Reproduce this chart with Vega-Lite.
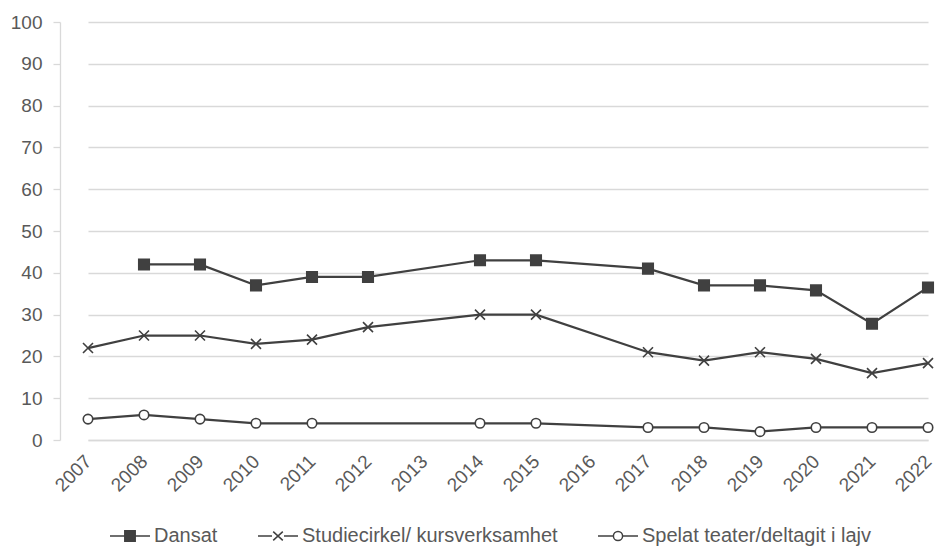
{
  "$schema": "https://vega.github.io/schema/vega-lite/v6.json",
  "width": 886,
  "height": 418,
  "autosize": "none",
  "padding": {"left": 60, "top": 22, "right": 0, "bottom": 109},
  "background": "white",
  "config": {
    "view": {"stroke": null},
    "font": "Liberation Sans",
    "axis": {"labelFont": "Liberation Sans", "labelColor": "#595959", "labelFontSize": 19},
    "legend": {"labelFont": "Liberation Sans", "labelColor": "#595959", "labelFontSize": 20, "labelLimit": 500}
  },
  "data": {
    "values": [
      {"year": "2008", "series": "Dansat", "value": 42},
      {"year": "2009", "series": "Dansat", "value": 42},
      {"year": "2010", "series": "Dansat", "value": 37},
      {"year": "2011", "series": "Dansat", "value": 39},
      {"year": "2012", "series": "Dansat", "value": 39},
      {"year": "2014", "series": "Dansat", "value": 43},
      {"year": "2015", "series": "Dansat", "value": 43},
      {"year": "2017", "series": "Dansat", "value": 41},
      {"year": "2018", "series": "Dansat", "value": 37},
      {"year": "2019", "series": "Dansat", "value": 37},
      {"year": "2020", "series": "Dansat", "value": 35.8},
      {"year": "2021", "series": "Dansat", "value": 27.8},
      {"year": "2022", "series": "Dansat", "value": 36.5},
      {"year": "2007", "series": "Studiecirkel/ kursverksamhet", "value": 22},
      {"year": "2008", "series": "Studiecirkel/ kursverksamhet", "value": 25},
      {"year": "2009", "series": "Studiecirkel/ kursverksamhet", "value": 25},
      {"year": "2010", "series": "Studiecirkel/ kursverksamhet", "value": 23},
      {"year": "2011", "series": "Studiecirkel/ kursverksamhet", "value": 24},
      {"year": "2012", "series": "Studiecirkel/ kursverksamhet", "value": 27},
      {"year": "2014", "series": "Studiecirkel/ kursverksamhet", "value": 30},
      {"year": "2015", "series": "Studiecirkel/ kursverksamhet", "value": 30},
      {"year": "2017", "series": "Studiecirkel/ kursverksamhet", "value": 21},
      {"year": "2018", "series": "Studiecirkel/ kursverksamhet", "value": 19},
      {"year": "2019", "series": "Studiecirkel/ kursverksamhet", "value": 21},
      {"year": "2020", "series": "Studiecirkel/ kursverksamhet", "value": 19.4},
      {"year": "2021", "series": "Studiecirkel/ kursverksamhet", "value": 16},
      {"year": "2022", "series": "Studiecirkel/ kursverksamhet", "value": 18.4},
      {"year": "2007", "series": "Spelat teater/deltagit i lajv", "value": 5},
      {"year": "2008", "series": "Spelat teater/deltagit i lajv", "value": 6},
      {"year": "2009", "series": "Spelat teater/deltagit i lajv", "value": 5},
      {"year": "2010", "series": "Spelat teater/deltagit i lajv", "value": 4},
      {"year": "2011", "series": "Spelat teater/deltagit i lajv", "value": 4},
      {"year": "2014", "series": "Spelat teater/deltagit i lajv", "value": 4},
      {"year": "2015", "series": "Spelat teater/deltagit i lajv", "value": 4},
      {"year": "2017", "series": "Spelat teater/deltagit i lajv", "value": 3},
      {"year": "2018", "series": "Spelat teater/deltagit i lajv", "value": 3},
      {"year": "2019", "series": "Spelat teater/deltagit i lajv", "value": 2},
      {"year": "2020", "series": "Spelat teater/deltagit i lajv", "value": 3},
      {"year": "2021", "series": "Spelat teater/deltagit i lajv", "value": 3},
      {"year": "2022", "series": "Spelat teater/deltagit i lajv", "value": 3}
    ]
  },
  "encoding": {
    "x": {
      "field": "year",
      "type": "ordinal",
      "scale": {
        "type": "point",
        "domain": ["2007","2008","2009","2010","2011","2012","2013","2014","2015","2016","2017","2018","2019","2020","2021","2022"],
        "range": [28, 868],
        "padding": 0
      },
      "axis": {
        "title": null,
        "labelAngle": -45,
        "labelAlign": "right",
        "labelBaseline": "middle",
        "labelPadding": 18,
        "ticks": false,
        "domainColor": "#d9d9d9",
        "domainWidth": 1.3,
        "grid": false
      }
    },
    "y": {
      "field": "value",
      "type": "quantitative",
      "scale": {"domain": [0, 100], "nice": false},
      "axis": {
        "title": null,
        "values": [0,10,20,30,40,50,60,70,80,90,100],
        "gridColor": "#d9d9d9",
        "gridWidth": 1.3,
        "domainColor": "#d9d9d9",
        "domainWidth": 1.3,
        "tickColor": "#d9d9d9",
        "tickSize": 7,
        "tickWidth": 1.3,
        "labelPadding": 11
      }
    }
  },
  "resolve": {
    "scale": {"shape": "independent", "fill": "independent", "size": "independent"},
    "legend": {"shape": "independent", "fill": "independent", "size": "independent"}
  },
  "layer": [
    {
      "mark": {"type": "line", "color": "#404040", "strokeWidth": 2.25},
      "encoding": {
        "detail": {"field": "series", "type": "nominal"}
      }
    },
    {
      "mark": {"type": "point", "opacity": 1, "stroke": "#404040", "strokeWidth": 1.6},
      "encoding": {
        "shape": {
          "field": "series",
          "type": "nominal",
          "scale": {
            "domain": ["Dansat", "Studiecirkel/ kursverksamhet", "Spelat teater/deltagit i lajv"],
            "range": ["square", "M-1,-1L1,1M-1,1L1,-1", "circle"]
          },
          "legend": null
        },
        "fill": {
          "field": "series",
          "type": "nominal",
          "scale": {
            "domain": ["Dansat", "Studiecirkel/ kursverksamhet", "Spelat teater/deltagit i lajv"],
            "range": ["#404040", "transparent", "#ffffff"]
          },
          "legend": null
        },
        "size": {
          "field": "series",
          "type": "nominal",
          "scale": {
            "domain": ["Dansat", "Studiecirkel/ kursverksamhet", "Spelat teater/deltagit i lajv"],
            "range": [110, 90, 75]
          },
          "legend": null
        }
      }
    },
    {
      "transform": [{"filter": "datum.value < 0"}],
      "mark": {"type": "point", "opacity": 1, "stroke": "#404040", "strokeWidth": 2, "size": 1600},
      "encoding": {
        "shape": {
          "field": "series",
          "type": "nominal",
          "scale": {
            "domain": ["Dansat", "Studiecirkel/ kursverksamhet", "Spelat teater/deltagit i lajv"],
            "range": [
              "M-1,0H1M-0.26,-0.26H0.26V0.26H-0.26Z",
              "M-1,0H-0.3M0.3,0H1M-0.24,-0.22L0.24,0.22M-0.24,0.22L0.24,-0.22",
              "M-1,0H-0.23M0.23,0H1M-0.23,0A0.23,0.23 0 1,1 0.23,0A0.23,0.23 0 1,1 -0.23,0Z"
            ]
          },
          "legend": {
            "title": null,
            "orient": "none",
            "direction": "horizontal",
            "legendX": 49,
            "legendY": 493,
            "padding": 0,
            "symbolSize": 1600,
            "labelOffset": 3,
            "columnPadding": 37,
            "encode": {
              "symbols": {
                "stroke": {"value": "#404040"},
                "strokeWidth": {"value": 2},
                "opacity": {"value": 1}
              }
            }
          }
        },
        "fill": {
          "field": "series",
          "type": "nominal",
          "scale": {
            "domain": ["Dansat", "Studiecirkel/ kursverksamhet", "Spelat teater/deltagit i lajv"],
            "range": ["#404040", "transparent", "#ffffff"]
          },
          "legend": {
            "title": null,
            "orient": "none",
            "direction": "horizontal",
            "legendX": 49,
            "legendY": 493,
            "padding": 0,
            "symbolSize": 1600,
            "labelOffset": 3,
            "columnPadding": 37,
            "encode": {
              "symbols": {
                "stroke": {"value": "#404040"},
                "strokeWidth": {"value": 2},
                "opacity": {"value": 1}
              }
            }
          }
        }
      }
    }
  ]
}
